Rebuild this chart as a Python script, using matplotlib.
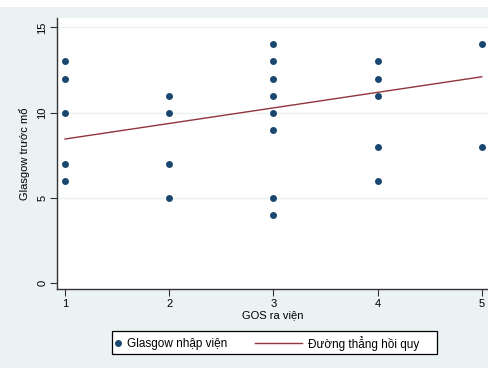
import numpy as np
import matplotlib
matplotlib.use('Agg')
import matplotlib.pyplot as plt
from matplotlib.patches import Rectangle
from matplotlib.lines import Line2D

plt.rcParams['font.family'] = ['Liberation Sans', 'DejaVu Sans']
plt.rcParams['font.size'] = 8

# dữ liệu: GOS ra viện và Glasgow trước mổ
gos = [1, 1, 1, 1, 1,
       2, 2, 2, 2,
       3, 3, 3, 3, 3, 3, 3, 3,
       4, 4, 4, 4, 4,
       5, 5]
glasgow = [13, 12, 10, 7, 6,
           11, 10, 7, 5,
           14, 13, 12, 11, 10, 9, 5, 4,
           13, 12, 11, 8, 6,
           14, 8]

# đường hồi quy
fit_x = [1, 5]
fit_y = [8.45, 12.1]

dot_color = '#1a476f'
line_color = '#90353b'
bg = '#eaf2f3'

W, H = 489, 368
fig = plt.figure(figsize=(W / 100, H / 100), dpi=100, facecolor=bg)
# dải trắng phía trên (tiêu đề bị cắt)
fig.patches.append(Rectangle((0, 1 - 7 / H), 1, 7 / H, transform=fig.transFigure,
                             facecolor='white', edgecolor='none'))

ax = fig.add_axes([57 / W, 1 - 289 / H, 1 - 57 / W, (289 - 18) / H])
ax.set_facecolor('white')

ax.scatter(gos, glasgow, s=25, color=dot_color, zorder=3, linewidths=0)
ax.plot(fit_x, fit_y, color=line_color, lw=1, zorder=2)

ax.set_xlim(0.923, 5.07)
ax.set_ylim(-0.35, 15.55)
ax.set_xticks([1, 2, 3, 4, 5])
ax.set_yticks([0, 5, 10, 15])
for v in [5, 10, 15]:
    ax.axhline(v, color=bg, lw=1, zorder=1)

for s in ['top', 'right']:
    ax.spines[s].set_visible(False)
for s in ['left', 'bottom']:
    ax.spines[s].set_color('#333333')
    ax.spines[s].set_linewidth(1)
ax.tick_params(length=5, width=0.8, color='#333333', pad=2, labelsize=8)
for t in ax.get_yticklabels():
    t.set_rotation(90)
    t.set_va('center')

ax.set_xlabel('GOS ra viện', labelpad=1, fontsize=8)
ax.set_ylabel('Glasgow trước mổ', labelpad=5, fontsize=8)

# chú thích vẽ tay (kiểu Stata)
def fx(px):
    return px / W

def fy(py):
    return 1 - py / H

fig.patches.append(Rectangle((fx(112), fy(354)), fx(437) - fx(112), fy(331) - fy(354),
                             transform=fig.transFigure, facecolor='white',
                             edgecolor='black', lw=0.9))
fig.add_artist(Line2D([fx(118)], [fy(342.5)], marker='o', ms=5, mew=0,
                      color=dot_color, transform=fig.transFigure))
fig.text(fx(127), fy(342.5), 'Glasgow nhập viện', va='center_baseline', ha='left', fontsize=8.5)
fig.add_artist(Line2D([fx(255), fx(302)], [fy(342.5), fy(342.5)], lw=1,
                      color=line_color, transform=fig.transFigure))
fig.text(fx(308), fy(342.5), 'Đường thẳng hồi quy', va='center_baseline', ha='left', fontsize=8.5)

plt.savefig('out.png', dpi=100, facecolor=bg)
